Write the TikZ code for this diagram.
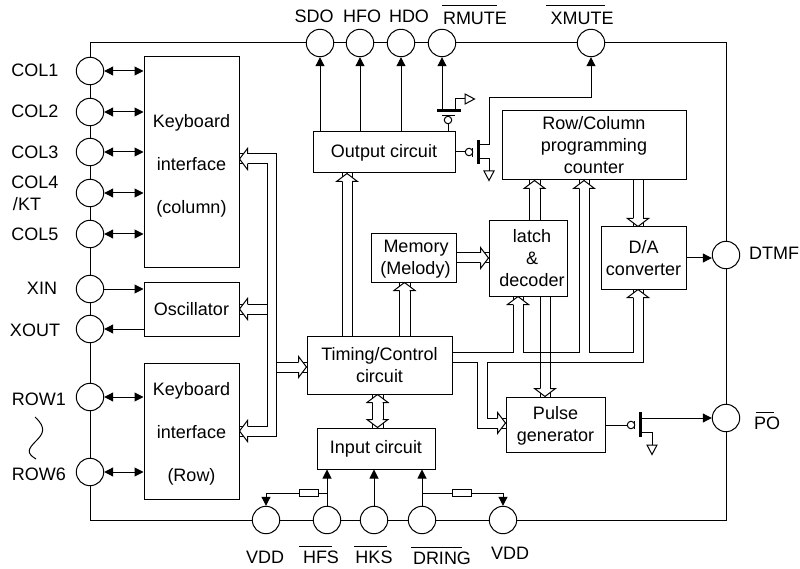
\documentclass[tikz,border=0pt]{standalone}
\usepackage{fontspec}
\setmainfont{Liberation Sans}
\usepackage{tikz}
\usetikzlibrary{arrows.meta}

\tikzset{
  >={Triangle[length=9pt,width=9pt]},
  every path/.style={line width=1pt},
  pin/.style={shape=circle, draw=black, fill=white, inner sep=0pt, minimum size=27.4pt},
  blk/.style={shape=rectangle, draw=black, inner sep=0pt, align=center},
  txt/.style={inner sep=0pt, text height=12.9pt, text depth=0pt},
  bubble/.style={shape=circle, draw=black, fill=white, inner sep=0pt, minimum size=7.5pt},
  res/.style={shape=rectangle, draw=black, fill=white, inner sep=0pt, minimum width=19pt, minimum height=7pt},
  bushead/.pic={\draw[fill=white] (-8,-5) -- (-8,-10.5) -- (0,0) -- (-8,10.5) -- (-8,5);},
  gnd/.pic={\draw (0,-5) -- (9.5,0) -- (0,5) -- cycle;}
}

\begin{document}
\begin{tikzpicture}[x=1pt, y=-1pt, font=\fontsize{18}{22}\selectfont]
\useasboundingbox (0,0) rectangle (800,569);

% outline of the chip
\coordinate (tl) at (90,43);
\coordinate (br) at (726,520);
\draw (tl) rectangle (br);

% pins
\node[pin] (col1) at (90,71) {};
\node[pin] (col2) at (90,112) {};
\node[pin] (col3) at (90,152) {};
\node[pin] (col4) at (90,193) {};
\node[pin] (col5) at (90,234) {};
\node[pin] (xin) at (90,289) {};
\node[pin] (xout) at (90,329) {};
\node[pin] (row1) at (90,397) {};
\node[pin] (row6) at (90,472) {};
\node[pin] (sdo) at (320,43) {};
\node[pin] (hfo) at (360,43) {};
\node[pin] (hdo) at (401,43) {};
\node[pin] (rmute) at (442,43) {};
\node[pin] (xmute) at (591,43) {};
\node[pin] (dtmf) at (726,255) {};
\node[pin] (po) at (726,418) {};
\node[pin] (vdda) at (266,520) {};
\node[pin] (hfs) at (327,520) {};
\node[pin] (hks) at (374,520) {};
\node[pin] (dring) at (422,520) {};
\node[pin] (vddb) at (503,520) {};

% pin names
\node[txt] (lcol1) at (35,70) {COL1};
\node[txt] (lcol2) at (35,111) {COL2};
\node[txt] (lcol3) at (35,152) {COL3};
\node[txt] (lcol4) at (35,182) {COL4};
\node[txt] (lkt) at (27,204) {/KT};
\node[txt] (lcol5) at (35,234) {COL5};
\node[txt] (lxin) at (42,288) {XIN};
\node[txt] (lxout) at (35,330) {XOUT};
\node[txt] (lrow1) at (39,399) {ROW1};
\node[txt] (lrow6) at (39,474) {ROW6};
\node[txt] (lsdo) at (314,16) {SDO};
\node[txt] (lhfo) at (362,16) {HFO};
\node[txt] (lhdo) at (409,16) {HDO};
\node[txt] (lrmute) at (475,18) {RMUTE};
\node[txt] (lxmute) at (582,18) {XMUTE};
\node[txt] (ldtmf) at (774,253) {DTMF};
\node[txt] (lpo) at (767,423) {PO};
\node[txt] (lvdda) at (265,557) {VDD};
\node[txt] (lhfs) at (321,557) {HFS};
\node[txt] (lhks) at (374,557) {HKS};
\node[txt] (ldring) at (442,558) {DRING};
\node[txt] (lvddb) at (510,553) {VDD};

% bars over the inverted names
\draw (442,6) -- (497,6);
\draw (546,6) -- (605,6);
\draw (756,412) -- (774,412);
\draw (299,546) -- (332,546);
\draw (354,546) -- (387,546);
\draw (411,547) -- (462,547);
\draw (35,417) .. controls (47,428) and (43,434) .. (36,441) .. controls (28,449) and (26,453) .. (36,459);

% blocks
\node[blk, minimum width=95pt, minimum height=211pt] (kcol) at (191.5,162.5) {\rule{0pt}{20.5pt}Keyboard\\[21pt]interface\\[21pt](column)};
\node[blk, minimum width=95pt, minimum height=54pt] (osc) at (191.5,309) {Oscillator};
\node[blk, minimum width=95pt, minimum height=136pt] (krow) at (191.5,431) {\rule{0pt}{18pt}Keyboard\\[21pt]interface\\[21pt](Row)};
\node[blk, minimum width=142pt, minimum height=41pt] (out) at (384,152.5) {Output circuit};
\node[blk, minimum width=184pt, minimum height=69pt] (rc) at (594,145.5) {Row/Column\\programming\\counter};
\node[blk, minimum width=145pt, minimum height=58pt] (tim) at (379.5,365) {Timing/Control\\circuit};
\node[blk, minimum width=85pt, minimum height=48pt] (mem) at (413.5,258) {\rule{0pt}{15pt}\hspace*{5pt}Memory\\\hspace*{4pt}(Melody)};
\node[blk, minimum width=78pt, minimum height=75pt] (latch) at (528,258.5) {\hspace*{8pt}latch\\\hspace*{8pt}\&\\\hspace*{8pt}decoder};
\node[blk, minimum width=85pt, minimum height=62pt] (da) at (643.5,258) {D/A\\converter};
\node[blk, minimum width=99pt, minimum height=55pt] (pul) at (555.5,424.5) {\rule{0pt}{15pt}Pulse\\generator};
\node[blk, minimum width=118pt, minimum height=41pt] (inp) at (376,448.5) {Input circuit};

% pin connections
\draw[<->] (col1) -- (kcol.west |- col1);
\draw[<->] (col2) -- (kcol.west |- col2);
\draw[<->] (col3) -- (kcol.west |- col3);
\draw[<->] (col4) -- (kcol.west |- col4);
\draw[<->] (col5) -- (kcol.west |- col5);
\draw[<->] (row1) -- (krow.west |- row1);
\draw[<->] (row6) -- (krow.west |- row6);
\draw[->] (xin) -- (osc.west |- xin);
\draw[->] (osc.west |- xout) -- (xout);
\draw[->] (sdo |- out.north) -- (sdo);
\draw[->] (hfo |- out.north) -- (hfo);
\draw[->] (hdo |- out.north) -- (hdo);
\draw[->] (da.east) -- (dtmf.west |- da.east);
\draw[->] (hfs) -- (hfs |- inp.south);
\draw[->] (hks) -- (hks |- inp.south);
\draw[->] (dring) -- (dring |- inp.south);

% pull-ups
\node[res] (ra) at (308.5,493) {};
\node[res] (rb) at (461.5,493) {};
\draw (ra) -- (hfs |- ra);
\draw[->] (ra) -| (vdda);
\draw (rb) -- (dring |- rb);
\draw[->] (rb) -| (vddb);

% switch at RMUTE
\coordinate (qrs) at (442,111);
\coordinate (qrd) at (455,111);
\node[bubble] (qrg) at (448,120) {};
\draw[line width=3pt] (437,111) -- (461,111);
\draw (442,116) -- (455,116);
\draw (qrg) -- (qrg |- out.north);
\draw[->] (qrs) -- (rmute);
\draw (qrd) -- (455,99) -- (465,99) pic {gnd};

% switch at XMUTE
\coordinate (qxd) at (478,145);
\coordinate (qxs) at (478,159);
\node[bubble] (qxg) at (469,152) {};
\draw[line width=3pt] (478,140) -- (478,164);
\draw (472,148) -- (472,157);
\draw (out.east |- qxg) -- (qxg);
\draw[->] (qxd) -- (489,145) -- (489,98) -| (xmute);
\draw (qxs) -- (489,159) -- (489,171) pic[rotate=-90] {gnd};

% switch at PO
\coordinate (qpd) at (640,418);
\coordinate (qps) at (640,432);
\node[bubble] (qpg) at (631,425) {};
\draw[line width=3pt] (640,412) -- (640,437);
\draw (634,421) -- (634,429);
\draw (pul.east |- qpg) -- (qpg);
\draw[->] (qpd) -- (po);
\draw (qps) -- (652,432) -- (652,445) pic[rotate=-90] {gnd};

% bus to the keyboard blocks and the oscillator
\draw (kcol.east |- 0,154) -- (276,154) -- (276,436) -- (krow.east |- 0,436);
\draw (kcol.east |- 0,164) -- (267,164) -- (267,426) -- (krow.east |- 0,426);
\draw (osc.east |- 0,304) -- (267,304);
\draw (osc.east |- 0,314) -- (267,314);
\draw (276,362) -- (tim.west |- 0,362);
\draw (276,372) -- (tim.west |- 0,372);

% buses around the timing block
\draw (tim.north -| 342,0) -- (out.south -| 342,0);
\draw (tim.north -| 352,0) -- (out.south -| 352,0);
\draw (tim.north -| 399,0) -- (mem.south -| 399,0);
\draw (tim.north -| 410,0) -- (mem.south -| 410,0);
\draw (tim.south -| 372,0) -- (inp.north -| 372,0);
\draw (tim.south -| 383,0) -- (inp.north -| 383,0);
\draw (mem.east |- 0,253) -- (latch.west |- 0,253);
\draw (mem.east |- 0,263) -- (latch.west |- 0,263);
\draw (latch.north -| 529,0) -- (rc.south -| 529,0);
\draw (latch.north -| 540,0) -- (rc.south -| 540,0);
\draw (rc.south -| 633,0) -- (da.north -| 633,0);
\draw (rc.south -| 643,0) -- (da.north -| 643,0);
\draw (latch.south -| 540,0) -- (pul.north -| 540,0);
\draw (latch.south -| 550,0) -- (pul.north -| 550,0);
\draw (tim.east |- 0,352) -- (513,352) -- (latch.south -| 513,0);
\draw (latch.south -| 523,0) -- (523,352) -- (579,352) -- (rc.south -| 579,0);
\draw (rc.south -| 589,0) -- (589,352) -- (633,352) -- (da.south -| 633,0);
\draw (da.south -| 643,0) -- (643,362) -- (487,362) -- (487,418) -- (pul.west |- 0,418);
\draw (tim.east |- 0,362) -- (477,362) -- (477,428) -- (pul.west |- 0,428);

% heads of the buses
\path (kcol.east |- 0,159) pic[rotate=180] {bushead};
\path (osc.east |- 0,309) pic[rotate=180] {bushead};
\path (krow.east |- 0,431) pic[rotate=180] {bushead};
\path (tim.west |- 0,367) pic {bushead};
\path (out.south -| 347,0) pic[rotate=90] {bushead};
\path (mem.south -| 404.5,0) pic[rotate=90] {bushead};
\path (tim.south -| 377.5,0) pic[rotate=90] {bushead};
\path (inp.north -| 377.5,0) pic[rotate=-90] {bushead};
\path (latch.west |- 0,258) pic {bushead};
\path (rc.south -| 534.5,0) pic[rotate=90] {bushead};
\path (rc.south -| 584,0) pic[rotate=90] {bushead};
\path (da.north -| 638,0) pic[rotate=-90] {bushead};
\path (da.south -| 638,0) pic[rotate=90] {bushead};
\path (latch.south -| 518,0) pic[rotate=90] {bushead};
\path (pul.north -| 545,0) pic[rotate=-90] {bushead};
\path (pul.west |- 0,423) pic {bushead};
\end{tikzpicture}
\end{document}
